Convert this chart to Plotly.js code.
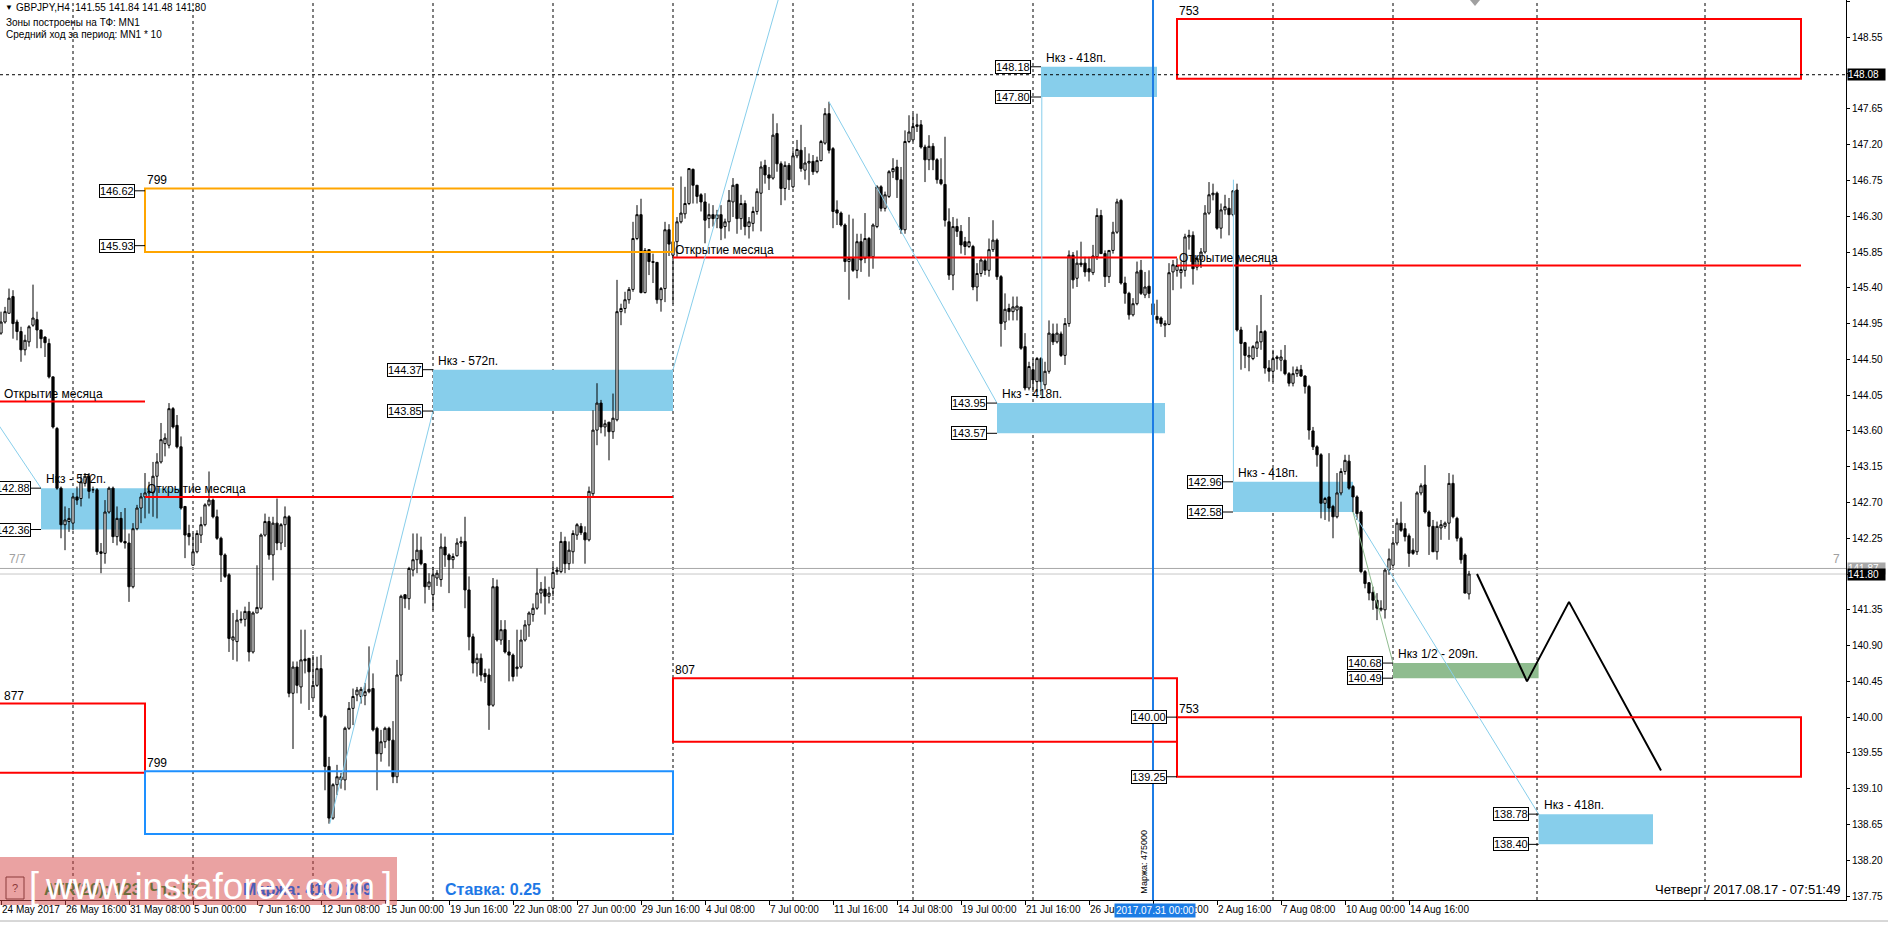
<!DOCTYPE html>
<html><head><meta charset="utf-8">
<script src="https://cdn.plot.ly/plotly-3.0.1.min.js"></script>
<style>html,body{margin:0;padding:0;background:#fff;overflow:hidden}#chart{width:1888px;height:926px}</style>
</head><body><div id="chart"></div><script>
// ---------- candle data (GBPJPY H4, index 0 = 24 May 2017 00:00) ----------
const openP = [
144.83,144.97,145.08,145.29,144.97,144.85,144.62,144.72,144.93,145.00,
144.87,144.78,144.70,144.28,143.63,142.88,142.42,142.46,142.44,142.77,
142.75,142.94,143.03,142.86,142.86,142.08,142.06,142.58,142.88,142.27,
142.50,142.21,142.19,141.64,142.37,142.63,142.77,142.82,142.82,143.03,
143.21,143.44,143.42,143.88,143.67,143.40,142.65,142.31,141.91,142.08,
142.29,142.42,142.67,142.73,142.52,142.25,142.04,141.79,140.97,140.95,
141.22,141.23,141.33,140.82,141.31,141.37,142.29,142.46,142.04,142.44,
142.19,142.42,142.52,140.30,140.63,140.38,140.73,140.74,140.24,140.40,
140.61,140.01,139.38,138.73,139.15,139.21,139.21,139.86,140.11,140.28,
140.26,140.27,140.32,140.36,139.86,139.54,139.69,139.86,139.71,139.25,
140.53,141.54,141.49,141.85,141.98,142.10,141.93,141.64,141.54,141.75,
141.73,142.14,142.04,141.98,142.03,142.19,142.21,141.60,141.01,140.68,
140.74,140.55,140.53,140.15,141.64,140.97,141.10,140.82,140.78,140.61,
140.63,140.97,141.16,141.29,141.37,141.56,141.61,141.52,141.62,141.83,
141.83,142.21,141.93,142.08,142.29,142.40,142.32,142.23,142.81,143.61,
143.95,143.65,143.71,143.59,143.74,145.10,145.14,145.25,145.38,146.02,
146.32,145.34,145.88,145.73,145.72,145.25,145.39,146.13,145.81,145.98,
146.23,146.33,146.46,146.89,146.69,146.57,146.48,146.27,146.32,146.27,
146.32,146.17,146.23,146.48,146.70,146.27,146.46,146.17,146.21,146.36,
146.59,146.94,146.82,146.78,147.34,146.96,146.65,146.94,146.67,147.06,
147.13,146.88,146.97,146.99,146.86,147.00,147.22,147.59,147.15,146.38,
146.34,146.19,145.73,145.77,145.62,145.98,145.77,146.02,145.79,146.17,
146.67,146.40,146.55,146.86,146.92,146.76,146.13,147.24,147.26,147.43,
147.45,147.17,147.01,147.18,147.01,146.76,146.70,146.23,145.56,146.17,
146.11,145.98,145.92,145.92,145.41,145.58,145.74,145.62,145.88,146.00,
145.54,144.97,145.14,145.10,145.12,145.16,144.66,144.14,144.37,144.22,
144.51,144.18,144.35,144.82,144.72,144.82,144.55,144.95,145.81,145.52,
145.71,145.71,145.64,145.59,145.79,146.31,145.83,145.54,145.87,146.10,
146.50,145.46,145.33,145.06,145.20,145.62,145.31,145.42,145.20,145.04,
145.02,144.93,144.94,145.60,145.62,145.59,145.62,146.04,146.06,145.66,
145.75,145.85,146.34,146.57,146.59,146.15,146.38,146.40,146.32,146.63,
144.87,144.71,144.53,144.51,144.64,144.72,144.85,144.39,144.35,144.51,
144.49,144.49,144.32,144.20,144.32,144.37,144.29,144.16,143.60,143.40,
143.30,142.69,142.77,142.65,142.52,142.82,143.09,143.22,142.90,142.77,
142.58,141.83,141.69,141.57,141.47,141.35,141.35,141.85,141.91,142.19,
142.44,142.37,142.28,142.10,142.08,142.82,142.92,142.58,142.40,142.08,
142.38,142.40,142.44,142.94,142.50,142.25,142.04,141.55];
const highP = [
145.10,145.16,145.39,145.37,145.00,144.91,144.81,144.93,145.44,145.10,
144.87,144.79,144.76,144.28,143.65,142.90,142.65,142.63,142.82,142.90,
143.05,143.07,143.07,142.90,142.88,142.19,142.73,142.90,142.90,142.65,
142.58,142.63,142.31,142.44,142.67,142.82,143.07,142.96,143.21,143.32,
143.70,143.57,143.95,143.90,143.80,143.53,142.65,142.42,142.31,142.35,
142.52,142.69,143.09,142.75,142.61,142.27,142.06,141.81,141.31,141.35,
141.33,141.39,141.45,141.33,141.91,142.31,142.56,142.52,142.52,142.75,
142.44,142.65,142.54,140.70,140.70,141.10,141.10,140.74,140.78,140.76,
140.78,140.03,139.50,139.17,139.40,139.30,139.88,140.19,140.36,140.38,
140.38,140.43,140.89,140.55,139.88,139.84,139.88,139.88,139.95,140.72,
141.54,141.54,141.89,142.31,142.31,142.27,141.93,141.81,141.89,141.85,
142.31,142.27,142.06,142.06,142.25,142.27,142.52,141.77,141.05,140.80,
140.80,140.61,140.61,141.75,141.73,141.22,141.22,140.97,140.80,141.10,
141.10,141.22,141.33,141.43,141.87,141.70,141.77,141.64,141.93,141.89,
142.33,142.27,142.21,142.35,142.44,142.44,142.40,142.90,143.86,144.20,
143.99,143.74,143.71,144.07,145.50,145.20,145.35,145.41,146.23,146.44,
146.52,145.90,145.88,145.83,145.72,145.41,146.23,146.20,146.00,146.29,
146.80,146.67,146.90,146.90,146.69,146.59,146.59,146.46,146.44,146.38,
146.44,146.27,146.63,146.78,146.71,146.57,146.50,146.29,146.42,146.65,
146.99,147.01,146.92,147.59,147.47,146.99,146.99,146.97,147.13,147.26,
147.45,147.17,147.09,147.07,147.05,147.26,147.66,147.74,147.17,146.50,
146.36,146.21,146.32,146.27,146.08,146.08,146.34,146.04,146.21,146.69,
146.69,146.61,146.88,147.03,147.01,146.92,147.38,147.57,147.59,147.59,
147.51,147.20,147.32,147.22,147.03,147.03,147.30,146.40,146.29,146.27,
146.19,146.04,146.29,145.94,145.71,145.79,145.77,146.02,146.25,146.02,
145.56,145.33,145.20,145.29,145.29,145.16,144.83,144.47,144.51,144.53,
144.53,144.47,144.99,144.95,144.95,144.85,145.02,145.87,145.85,145.87,
145.98,145.79,145.79,145.94,146.40,146.38,145.87,145.87,146.23,146.52,
146.52,145.54,145.35,145.27,145.73,145.75,145.60,145.62,145.35,145.25,
145.04,144.99,145.71,145.75,145.77,145.73,146.08,146.13,146.11,145.81,
145.90,146.44,146.73,146.71,146.61,146.46,146.57,146.53,146.63,146.71,
144.91,144.72,144.66,144.68,144.93,145.31,144.87,144.49,144.62,144.55,
144.62,144.68,144.34,144.41,144.41,144.43,144.30,144.18,143.65,143.42,
143.32,142.77,143.32,142.67,143.07,143.13,143.30,143.30,142.92,142.79,
142.60,141.85,141.70,141.64,141.56,141.47,141.87,142.12,142.23,142.50,
142.71,142.44,142.31,142.25,142.84,142.94,143.17,142.60,142.48,142.46,
142.48,142.46,143.07,143.05,142.52,142.27,142.06,141.84];
const lowP = [
144.81,144.95,145.08,144.76,144.74,144.47,144.55,144.66,144.91,144.64,
144.64,144.53,144.26,143.63,142.86,142.25,142.10,142.33,142.35,142.67,
142.65,142.90,142.75,142.82,142.04,141.81,141.93,142.56,142.19,142.16,
142.19,142.12,141.45,141.62,142.35,142.44,142.50,142.56,142.52,142.50,
143.19,143.28,143.38,143.63,143.38,142.61,142.00,142.16,141.91,142.06,
142.19,142.40,142.65,142.50,142.23,141.70,141.75,140.82,140.72,140.70,
141.18,141.14,140.70,140.80,141.31,141.35,142.27,141.98,141.72,142.10,
142.10,142.14,140.25,139.60,140.30,140.17,140.55,140.09,140.24,140.38,
139.99,139.08,138.66,138.71,139.02,139.10,139.08,139.84,139.90,140.20,
140.17,140.15,140.30,139.82,139.08,139.44,139.61,139.38,139.17,139.17,
140.45,141.37,141.35,141.77,141.81,141.91,141.43,141.60,141.35,141.65,
141.64,141.89,141.56,141.87,142.02,142.14,141.37,140.84,140.55,140.51,
140.45,140.43,139.84,140.13,140.95,140.91,140.80,140.45,140.45,140.51,
140.61,140.95,141.01,141.20,141.35,141.43,141.29,141.43,141.52,141.79,
141.81,141.81,141.85,141.93,142.23,142.29,141.93,142.21,142.77,143.42,
143.57,143.53,143.23,143.50,143.72,144.93,145.08,145.20,145.35,146.00,
145.33,145.33,145.56,145.46,145.20,145.10,145.22,145.80,145.20,145.79,
146.21,146.27,146.44,146.46,146.46,146.36,145.96,146.15,146.17,146.15,
146.00,146.02,146.11,146.29,146.08,146.13,146.06,146.02,146.11,146.32,
146.11,146.71,146.63,146.76,146.86,146.44,146.50,146.63,146.65,147.03,
146.86,146.76,146.69,146.82,146.84,146.99,147.20,147.09,146.15,146.19,
146.17,145.60,145.25,145.60,145.52,145.60,145.71,145.54,145.64,146.15,
146.36,146.36,146.53,146.78,146.53,146.08,146.08,147.22,147.24,147.36,
147.15,146.73,146.88,146.88,146.71,146.69,146.17,145.50,145.37,146.04,
145.83,145.81,145.90,145.37,145.23,145.54,145.56,145.54,145.85,145.50,
144.66,144.87,144.99,144.99,144.99,144.62,144.11,144.11,144.09,144.09,
144.05,144.12,144.32,144.68,144.70,144.53,144.43,144.91,145.39,145.41,
145.66,145.54,145.48,145.56,145.75,145.83,145.41,145.46,145.83,146.08,
145.44,145.20,145.00,145.04,145.18,145.31,145.27,145.27,144.95,144.95,
144.91,144.78,144.93,145.37,145.54,145.39,145.54,145.88,145.44,145.62,
145.65,145.83,146.32,146.50,146.13,146.02,146.32,146.06,146.30,144.85,
144.37,144.39,144.35,144.49,144.53,144.62,144.32,144.22,144.22,144.37,
144.35,144.30,144.16,144.16,144.28,144.28,144.07,143.49,143.36,143.15,
142.50,142.48,142.46,142.25,142.50,142.79,143.05,142.86,142.58,142.48,
141.81,141.62,141.47,141.35,141.22,141.33,141.24,141.79,141.89,142.16,
142.33,142.21,141.89,142.04,142.04,142.79,142.56,142.04,142.08,141.98,
142.23,142.37,142.23,142.50,142.21,141.93,141.56,141.48];
const closeP = [
144.97,145.10,145.27,144.95,144.85,144.62,144.74,144.91,145.02,144.87,
144.76,144.71,144.28,143.65,142.88,142.42,142.48,142.50,142.77,142.73,
142.96,143.03,142.84,142.86,142.08,142.06,142.58,142.88,142.27,142.50,
142.21,142.19,141.64,142.37,142.63,142.77,142.82,142.84,143.03,143.21,
143.49,143.51,143.88,143.65,143.40,142.63,142.29,142.27,142.08,142.31,
142.42,142.67,142.73,142.52,142.25,142.04,141.77,140.99,141.01,141.22,
141.23,141.33,140.82,141.31,141.38,142.29,142.46,142.04,142.44,142.19,
142.42,142.52,140.30,140.63,140.40,140.72,140.71,140.57,140.40,140.61,
140.01,139.38,138.73,139.15,139.25,139.25,139.86,140.11,140.26,140.34,
140.35,140.32,140.35,139.84,139.54,139.69,139.86,139.71,139.25,140.53,
141.52,141.49,141.87,141.98,142.10,141.93,141.64,141.70,141.79,141.81,
142.14,142.04,141.98,142.02,142.19,142.21,141.60,141.01,140.68,140.74,
140.53,140.51,140.15,141.64,140.97,141.10,140.82,140.78,140.51,140.63,
140.97,141.16,141.31,141.37,141.56,141.61,141.52,141.56,141.82,141.85,
142.21,141.93,142.10,142.31,142.42,142.32,142.23,142.84,143.61,143.95,
143.65,143.69,143.59,143.76,145.10,145.14,145.25,145.38,146.02,146.32,
145.34,145.87,145.73,145.72,145.25,145.39,146.13,145.95,145.98,146.23,
146.34,146.46,146.90,146.69,146.55,146.48,146.25,146.32,146.27,146.32,
146.15,146.23,146.50,146.69,146.27,146.46,146.17,146.23,146.36,146.61,
146.92,146.82,146.78,147.32,146.96,146.65,146.94,146.76,147.06,147.14,
146.90,146.97,146.99,146.86,147.00,147.24,147.59,147.13,146.36,146.34,
146.19,145.73,145.77,145.62,145.98,145.75,146.02,145.79,146.19,146.67,
146.40,146.57,146.86,146.90,146.76,146.13,147.24,147.36,147.43,147.45,
147.17,147.01,147.18,147.01,146.76,146.71,146.25,145.56,146.17,146.11,
145.94,145.92,145.98,145.41,145.58,145.75,145.62,145.88,146.00,145.54,
144.95,145.13,145.10,145.16,145.17,144.64,144.14,144.41,144.24,144.51,
144.22,144.35,144.83,144.72,144.83,144.55,144.95,145.81,145.50,145.71,
145.69,145.60,145.60,145.80,146.31,145.83,145.54,145.87,146.10,146.48,
145.46,145.33,145.06,145.20,145.60,145.33,145.41,145.33,145.06,145.00,
144.95,144.95,145.59,145.69,145.68,145.63,146.04,146.06,145.64,145.77,
145.85,146.34,146.57,146.59,146.15,146.38,146.42,146.32,146.62,144.87,
144.70,144.55,144.55,144.66,144.72,144.85,144.39,144.35,144.51,144.53,
144.53,144.32,144.20,144.32,144.37,144.29,144.16,143.61,143.40,143.30,
142.69,142.75,142.63,142.52,142.82,143.09,143.23,142.88,142.77,142.56,
141.83,141.68,141.56,141.47,141.37,141.37,141.85,141.99,142.19,142.44,
142.35,142.27,142.06,142.06,142.82,142.91,142.58,142.40,142.08,142.40,
142.42,142.44,142.94,142.52,142.25,141.98,141.56,141.80];

// ---------- axis labels ----------
const timeTickIdx = [0,16,32,48,64,80,96,112,128,144,160,176,192,208,224,240,256,272,288,304,320,336,352];
const timeTickText = ['24 May 2017','26 May 16:00','31 May 08:00','5 Jun 00:00','7 Jun 16:00','12 Jun 08:00','15 Jun 00:00',
 '19 Jun 16:00','22 Jun 08:00','27 Jun 00:00','29 Jun 16:00','4 Jul 08:00','7 Jul 00:00','11 Jul 16:00','14 Jul 08:00',
 '19 Jul 00:00','21 Jul 16:00','26 Jul 08:00','31 Jul 00:00','2 Aug 16:00','7 Aug 08:00','10 Aug 00:00','14 Aug 16:00'];
const gridIdx = [18,48,78,108,138,168,198,228,258,288,318,348,384,426];

// ---------- analysis objects ----------
const moX0 = [-2, 36, 168, 294];          // month-open lines
const moX1 = [36, 168, 294, 450];
const moP  = [143.97, 142.77, 145.78, 145.68];

const mzX0 = [-5, 36, 36, 168, 294, 294]; // monthly range zones
const mzX1 = [36, 168, 168, 294, 450, 450];
const mzTop = [140.17, 146.65, 139.32, 140.49, 148.78, 140.00];
const mzBot = [139.30, 145.85, 138.53, 139.69, 148.03, 139.25];
const mzColor = ['#FF0000','#FFA500','#1E90FF','#FF0000','#FF0000','#FF0000'];
const mzText = ['877','799','799','807','753','753'];

const kzX0 = [10, 108, 260, 249, 308, 384.4];   // target zones
const kzX1 = [45, 168, 289, 291, 338, 413];
const kzTop = [142.88, 144.37, 148.18, 143.95, 142.96, 138.78];
const kzBot = [142.36, 143.85, 147.80, 143.57, 142.58, 138.40];
const kzText = ['Нкз - 572п.','Нкз - 572п.','Нкз - 418п.','Нкз - 418п.','Нкз - 418п.','Нкз - 418п.'];
const halfX0 = 348, halfX1 = 384.4, halfTop = 140.68, halfBot = 140.49, halfText = 'Нкз 1/2 - 209п.';

const tagEnd = [10,10,36,36,108,108,260,260,249,249,308,308,348,348,384.4,384.4,294,294];
const tagP = [142.88,142.36,146.62,145.93,144.37,143.85,148.18,147.80,143.95,143.57,142.96,142.58,140.68,140.49,138.78,138.40,140.00,139.25];

const tlX0 = [-2, 82.2, 168, 207, 260.2, 308.1, 338];
const tlY0 = [143.78, 138.66, 144.37, 147.74, 144.00, 146.76, 142.58];
const tlX1 = [10, 108, 200, 249, 260.2, 308.1, 384.4];
const tlY1 = [142.88, 143.85, 150.03, 143.95, 147.80, 142.96, 138.78];
const greenLineX = [338, 348], greenLineY = [142.58, 140.68];

const projX = [369, 381.5, 392, 415];
const projY = [141.80, 140.45, 141.45, 139.33];

const levelLine = 148.08, askP = 141.87, bidP = 141.80, markerIdx = 288, shiftIdx = 368.5;

// ---------- geometry ----------
const W = 1888, H = 926, ML = 0, MR = 42, MT = 0, MB = 26;
const PW = W - ML - MR, PH = H - MT - MB;
const xp = px => px / PW;
const yp = py => 1 - py / PH;
const F = 'Liberation Sans, Arial, sans-serif';

const idx = openP.map((_, i) => i);

const traces = [
  {type:'candlestick', x: idx, open: openP, high: highP, low: lowP, close: closeP,
   increasing:{line:{color:'#000', width:1}, fillcolor:'#ffffff'},
   decreasing:{line:{color:'#000', width:1}, fillcolor:'#000000'},
   whiskerwidth:0, hoverinfo:'skip', showlegend:false},
  {type:'scatter', mode:'lines', x: projX, y: projY, line:{color:'#000', width:2}, hoverinfo:'skip', showlegend:false}
];

const shapes = [];
gridIdx.forEach(g => shapes.push({type:'line', xref:'x', yref:'paper', x0:g, x1:g, y0:0, y1:1,
  line:{color:'#000', width:1, dash:'3px,3px'}, layer:'below'}));
shapes.push({type:'line', xref:'paper', yref:'y', x0:0, x1:1, y0:askP, y1:askP, line:{color:'#A8A8A8', width:1}, layer:'below'});
shapes.push({type:'line', xref:'paper', yref:'y', x0:0, x1:1, y0:bidP, y1:bidP, line:{color:'#C8C8C8', width:1}, layer:'below'});
kzX0.forEach((x0, k) => shapes.push({type:'rect', xref:'x', yref:'y', x0, x1:kzX1[k], y0:kzBot[k], y1:kzTop[k],
  fillcolor:'#87CEEB', line:{width:0}, layer:'below'}));
shapes.push({type:'rect', xref:'x', yref:'y', x0:halfX0, x1:halfX1, y0:halfBot, y1:halfTop, fillcolor:'#8FBC8F', line:{width:0}, layer:'below'});
mzX0.forEach((x0, k) => shapes.push({type:'rect', xref:'x', yref:'y', x0, x1:mzX1[k], y0:mzBot[k], y1:mzTop[k],
  line:{color:mzColor[k], width:2}, fillcolor:'rgba(0,0,0,0)', layer:'above'}));
moX0.forEach((x0, k) => shapes.push({type:'line', xref:'x', yref:'y', x0, x1:moX1[k], y0:moP[k], y1:moP[k],
  line:{color:'#FF0000', width:2}, layer:'above'}));
tlX0.forEach((x0, k) => shapes.push({type:'line', xref:'x', yref:'y', x0, x1:tlX1[k], y0:tlY0[k], y1:tlY1[k],
  line:{color:'#87CEEB', width:1}, layer:'above'}));
shapes.push({type:'line', xref:'x', yref:'y', x0:greenLineX[0], x1:greenLineX[1], y0:greenLineY[0], y1:greenLineY[1],
  line:{color:'#8FBC8F', width:1}, layer:'above'});
shapes.push({type:'line', xref:'paper', yref:'y', x0:0, x1:1, y0:levelLine, y1:levelLine, line:{color:'#000', width:1, dash:'3px,3px'}, layer:'above'});
shapes.push({type:'line', xref:'x', yref:'paper', x0:markerIdx, x1:markerIdx, y0:0, y1:1, line:{color:'#1C7CE5', width:2}, layer:'above'});
tagEnd.forEach((e, k) => shapes.push({type:'line', xref:'x', yref:'y', x0:e-2.5, x1:e, y0:tagP[k], y1:tagP[k], line:{color:'#000', width:1}, layer:'above'}));
// chart-shift marker at the top
const sx = 4 * shiftIdx + 1;
shapes.push({type:'path', xref:'paper', yref:'paper', path:`M ${xp(sx-5)} ${yp(0)} L ${xp(sx+5)} ${yp(0)} L ${xp(sx)} ${yp(6)} Z`,
  fillcolor:'#A0A0A0', line:{width:0}, layer:'above'});
// watermark + button
shapes.push({type:'rect', xref:'paper', yref:'paper', x0:xp(0), x1:xp(397), y0:yp(905), y1:yp(857), fillcolor:'rgba(214,70,70,0.5)', line:{width:0}, layer:'above'});
shapes.push({type:'rect', xref:'paper', yref:'paper', x0:xp(6), x1:xp(24), y0:yp(899), y1:yp(877), fillcolor:'rgba(0,0,0,0)', line:{color:'#8B3A3A', width:1}, layer:'above'});
// bottom tab bar line
shapes.push({type:'line', xref:'paper', yref:'paper', x0:0, x1:W/PW, y0:yp(921), y1:yp(921), line:{color:'#B0B0B0', width:1}, layer:'above'});

const ann = [];
const txt = (o) => ann.push(Object.assign({showarrow:false, font:{family:F, size:12, color:'#000'}}, o));
// header
txt({xref:'paper', yref:'paper', x:xp(3), y:yp(8), xanchor:'left', yanchor:'middle', text:'▼', font:{family:F, size:8, color:'#000'}});
txt({xref:'paper', yref:'paper', x:xp(14), y:yp(8), xanchor:'left', yanchor:'middle', text:'GBPJPY,H4  141.55 141.84 141.48 141.80', font:{family:F, size:10, color:'#000'}});
txt({xref:'paper', yref:'paper', x:xp(4), y:yp(22), xanchor:'left', yanchor:'middle', text:'Зоны построены на ТФ: MN1', font:{family:F, size:10, color:'#000'}});
txt({xref:'paper', yref:'paper', x:xp(4), y:yp(34), xanchor:'left', yanchor:'middle', text:'Средний ход за период: MN1 * 10', font:{family:F, size:10, color:'#000'}});
// month open labels
moX0.forEach((x0, k) => txt({xref:'x', yref:'y', x:Math.max(x0, 0.3), y:moP[k], xanchor:'left', yanchor:'bottom', yshift:-1, text:'Открытие месяца'}));
// zone numbers
mzX0.forEach((x0, k) => txt({xref:'x', yref:'y', x:Math.max(x0, 0.3), y:mzTop[k], xanchor:'left', yanchor:'bottom', yshift:-1, text:mzText[k]}));
// target zone labels
kzX0.forEach((x0, k) => txt({xref:'x', yref:'y', x:x0 + 0.8, y:kzTop[k], xanchor:'left', yanchor:'bottom', yshift:0, text:kzText[k]}));
txt({xref:'x', yref:'y', x:halfX0 + 0.8, y:halfTop, xanchor:'left', yanchor:'bottom', yshift:0, text:halfText});
// price tags
tagEnd.forEach((e, k) => txt({xref:'x', yref:'y', x:e - 2.5, y:tagP[k], xanchor:'right', yanchor:'middle', text:tagP[k].toFixed(2),
  bgcolor:'#fff', bordercolor:'#000', borderwidth:1, borderpad:0, font:{family:F, size:11, color:'#000'}}));
// 7/7
txt({xref:'x', yref:'y', x:1.5, y:141.99, xanchor:'left', yanchor:'middle', text:'7/7', font:{family:F, size:12, color:'#A0A0A0'}});
txt({xref:'x', yref:'y', x:457.5, y:141.99, xanchor:'left', yanchor:'middle', text:'7', font:{family:F, size:12, color:'#A0A0A0'}});
// vertical marker text
txt({xref:'x', yref:'y', x:markerIdx - 2.3, y:138.18, xanchor:'center', yanchor:'middle', textangle:-90, text:'Маржа: 475000', font:{family:F, size:9, color:'#000'}});
// price axis overlays
const axTag = (p, bg, fg) => txt({xref:'paper', yref:'y', x:1, xshift:1, y:p, xanchor:'left', yanchor:'middle', text:p.toFixed(2), width:37, align:'left',
  bgcolor:bg, borderpad:0, font:{family:F, size:10, color:fg}});
axTag(levelLine, '#000', '#fff');
axTag(askP, '#A8A8A8', '#fff');
axTag(bidP, '#000', '#fff');
// highlighted time label
txt({xref:'x', yref:'paper', x:markerIdx + 0.5, y:yp(911), xanchor:'center', yanchor:'middle', text:'2017.07.31 00:00', bgcolor:'#1C7CE5', borderpad:1,
  font:{family:F, size:10, color:'#fff'}});
// bottom info
txt({xref:'paper', yref:'paper', x:xp(15), y:yp(888), xanchor:'center', yanchor:'middle', text:'?', font:{family:F, size:11, color:'#8B3A3A'}});
txt({xref:'paper', yref:'paper', x:xp(42), y:yp(889), xanchor:'left', yanchor:'middle', text:'<b>ATR(20): 123  Чт.: 57</b>', font:{family:F, size:16, color:'#6E6E3C'}});
txt({xref:'paper', yref:'paper', x:xp(241), y:yp(889), xanchor:'left', yanchor:'middle', text:'<b>Маржа: 418 / 209</b>', font:{family:F, size:16, color:'#4A5CB8'}});
txt({xref:'paper', yref:'paper', x:xp(443), y:yp(889), xanchor:'left', yanchor:'middle', text:'<b>Ставка: 0.25</b>', font:{family:F, size:16, color:'#1E78E6'}});
txt({xref:'paper', yref:'paper', x:xp(1842), y:yp(889), xanchor:'right', yanchor:'middle', text:'Четверг / 2017.08.17 - 07:51:49', font:{family:F, size:13, color:'#000'}});
// watermark text
txt({xref:'paper', yref:'paper', x:xp(27), y:yp(885), xanchor:'left', yanchor:'middle', text:'[', font:{family:F, size:36, color:'#fff'}});
txt({xref:'paper', yref:'paper', x:xp(210), y:yp(886), xanchor:'center', yanchor:'middle', text:'www.instaforex.com', font:{family:F, size:37, color:'#fff'}});
txt({xref:'paper', yref:'paper', x:xp(380), y:yp(885), xanchor:'left', yanchor:'middle', text:']', font:{family:F, size:36, color:'#fff'}});

const layout = {
  width: W, height: H, margin:{l:ML, r:MR, t:MT, b:MB, pad:0},
  paper_bgcolor:'#fff', plot_bgcolor:'#fff', showlegend:false, hovermode:false, dragmode:false,
  boxgap:0.45, boxgroupgap:0,
  xaxis:{range:[-0.25, (PW / 4) - 0.25], rangeslider:{visible:false}, showgrid:false, zeroline:false,
    tickmode:'array', tickvals:timeTickIdx, ticktext:timeTickText, ticklabelposition:'outside right', tickangle:0,
    ticks:'outside', ticklen:4, tickcolor:'#000', tickfont:{family:F, size:10, color:'#000'},
    showline:true, linecolor:'#000', linewidth:1, mirror:true, fixedrange:true},
  yaxis:{range:[137.70, 149.02], side:'right', showgrid:false, zeroline:false,
    tick0:137.75, dtick:0.45, tickformat:'.2f', ticks:'outside', ticklen:3, tickcolor:'#000',
    tickfont:{family:F, size:10, color:'#000'}, showline:true, linecolor:'#000', linewidth:1, mirror:true, fixedrange:true},
  shapes, annotations: ann
};
Plotly.newPlot('chart', traces, layout, {staticPlot:true, displayModeBar:false});
</script></body></html>
